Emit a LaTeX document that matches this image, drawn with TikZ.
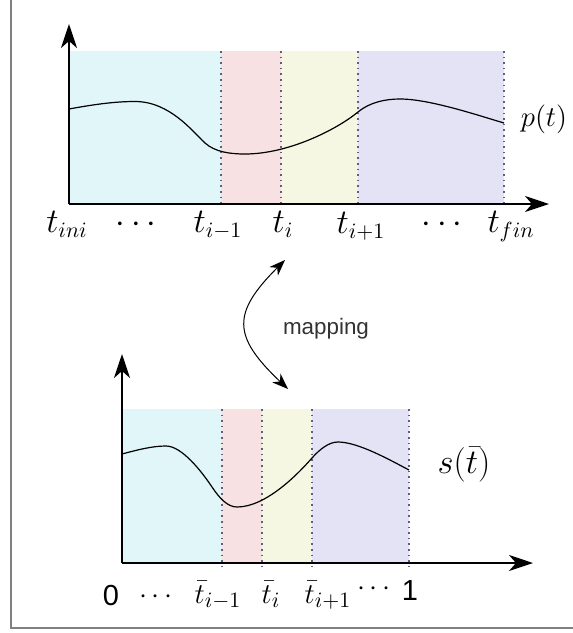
\documentclass[tikz,border=0pt]{standalone}
\usepackage{fontspec}
\setsansfont{Liberation Sans}
\usetikzlibrary{arrows.meta}
\definecolor{rcyan}{RGB}{224,246,248}
\definecolor{rpink}{RGB}{248,225,226}
\definecolor{ryellow}{RGB}{245,247,226}
\definecolor{rlav}{RGB}{228,226,245}
\definecolor{framec}{RGB}{128,128,128}
\definecolor{dotc}{RGB}{95,95,125}
\begin{document}
\begin{tikzpicture}[x=0.5pt,y=-0.5pt,
  axis/.style={line width=1pt,-{Stealth[length=12pt,width=8pt,inset=3.5pt]}},
  bound/.style={dotted,line width=0.8pt,draw=dotc},
  curv/.style={line width=0.6pt},
  mlab/.style={anchor=base,inner sep=0pt,font=\fontsize{16}{19}\selectfont},
  slab/.style={anchor=base,inner sep=0pt,font=\sffamily\fontsize{14.5}{17}\selectfont},
  maparrow/.style={line width=0.5pt,{Stealth[length=8pt,width=6pt,inset=2.5pt]}-{Stealth[length=8pt,width=6pt,inset=2.5pt]}}
]
\useasboundingbox (0,0) rectangle (573,633);
% frame
\draw[framec,line width=1pt] (10.5,0) -- (10.5,627.5) -- (573,627.5);

% ---------- top plot ----------
\fill[rcyan]   (69,51) rectangle (221,204);
\fill[rpink]   (221,51) rectangle (281,204);
\fill[ryellow] (281,51) rectangle (358,204);
\fill[rlav]    (358,51) rectangle (504,204);
\foreach \x in {221,281,358,504} \draw[bound] (\x,51) -- (\x,204);
\draw[curv] (69,109) .. controls (91,105) and (113,101.5) .. (135,101.5)
  .. controls (170,101.5) and (193,132) .. (205,143)
  .. controls (215,152) and (230,154) .. (245,154)
  .. controls (288,154) and (336,130) .. (358,112)
  .. controls (370,102) and (386,99) .. (400,99)
  .. controls (430,99) and (480,116) .. (504,123);
\coordinate (o1) at (69,204);
\coordinate (y1) at (69,24);
\coordinate (x1) at (549,204);
\draw[axis] (o1) -- (y1);
\draw[axis] (o1) -- (x1);
\node[mlab] (tini) at (67,232) {$t_{ini}$};
\node[mlab] (tdA) at (136,232) {$\cdots$};
\node[mlab] (tim1) at (218,232) {$t_{i-1}$};
\node[mlab] (ti) at (283,232) {$t_{i}$};
\node[mlab] (tip1) at (361,233) {$t_{i+1}$};
\node[mlab] (tdB) at (442,232) {$\cdots$};
\node[mlab] (tfin) at (511,232) {$t_{fin}$};
\node[anchor=base,inner sep=0pt,font=\fontsize{15}{18}\selectfont] (plab) at (544,126) {$p(t)$};

% ---------- mapping ----------
\coordinate (mtop) at (285,260);
\coordinate (mbot) at (288,389);
\draw[maparrow] (mtop) .. controls (232,313) and (232,336) .. (mbot);
\node[inner sep=0pt,font=\sffamily\fontsize{11.2}{13}\selectfont,text=black!80] (map) at (326,329) {mapping};

% ---------- bottom plot ----------
\fill[rcyan]   (122,409) rectangle (222,563);
\fill[rpink]   (222,409) rectangle (262,563);
\fill[ryellow] (262,409) rectangle (312,563);
\fill[rlav]    (312,409) rectangle (409,563);
\foreach \x in {222,262,312,409} \draw[bound] (\x,409) -- (\x,566);
\draw[curv] (122,454) .. controls (137,450) and (152,446) .. (166,446)
  .. controls (182,446) and (202,472) .. (212,487)
  .. controls (220,499) and (228,507) .. (237,507)
  .. controls (266,507) and (298,474) .. (312,458)
  .. controls (320,449) and (329,442) .. (338,442)
  .. controls (358,442) and (390,460) .. (409,470);
\coordinate (o2) at (122,563);
\coordinate (y2) at (122,354);
\coordinate (x2) at (533,563);
\draw[axis] (o2) -- (y2);
\draw[axis] (o2) -- (x2);
\node[slab] (zero) at (111,605) {0};
\node[mlab,font=\fontsize{15}{17}\selectfont] (bdA) at (156,603) {$\cdots$};
\node[mlab,font=\fontsize{15.5}{18}\selectfont] (bim1) at (218,603) {$\bar{t}_{i-1}$};
\node[mlab,font=\fontsize{15.5}{18}\selectfont] (bi) at (271,603) {$\bar{t}_{i}$};
\node[mlab,font=\fontsize{15.5}{18}\selectfont] (bip1) at (328,603) {$\bar{t}_{i+1}$};
\node[mlab,font=\fontsize{15}{17}\selectfont] (bdB) at (374,595) {$\cdots$};
\node[slab] (one) at (410,600) {1};
\node[anchor=base,inner sep=0pt,font=\fontsize{17}{20}\selectfont] (slabel) at (464,473) {$s(\bar{t})$};
\end{tikzpicture}
\end{document}
